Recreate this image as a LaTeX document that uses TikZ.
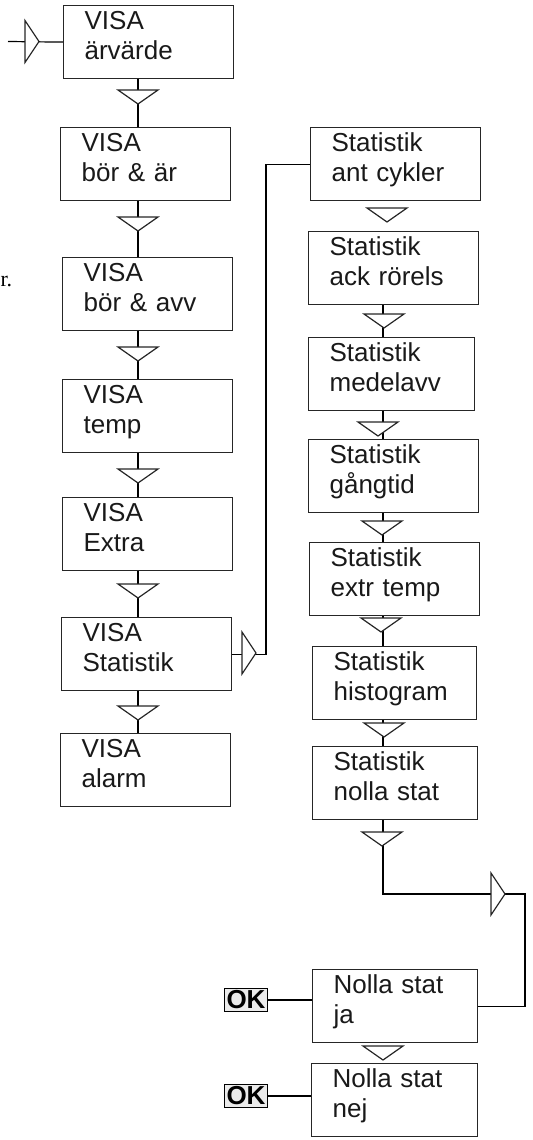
\documentclass[tikz,border=0pt]{standalone}
\usepackage{fontspec}
\setmainfont{Liberation Sans}
\newfontfamily\fragfont{Liberation Serif}
\begin{document}
\begin{tikzpicture}[
    x=0.5pt, y=-0.5pt,
    line width=0.6pt,
    menu/.style={rectangle,draw=black!85,anchor=north west,align=left,
        text width=64pt,inner xsep=10.5pt,inner ysep=0pt,minimum height=36.5pt,
        text height=10pt,text depth=22.5pt,text=black!90,
        font=\fontsize{13pt}{14.8pt}\selectfont},
    okkey/.style={rectangle,draw=black,fill=black!8,inner sep=1pt,
        font=\fontsize{13pt}{14pt}\selectfont\bfseries},
    tridown/.pic={\draw[draw=black!85,fill=white] (-20,0) -- (20,0) -- (0,14) -- cycle;},
    triright/.pic={\draw[draw=black!85,fill=white] (0,-21) -- (0,21) -- (14,0) -- cycle;},
]
\useasboundingbox (0,0) rectangle (533,1140);

% VISA menu
\node[menu] (arvarde) at (63,5) {VISA\\ärvärde};
\node[menu] (borar) at (60,127) {VISA\\bör \& är};
\node[menu] (boravv) at (62,257) {VISA\\bör \& avv};
\node[menu] (temp) at (62,379) {VISA\\temp};
\node[menu] (extra) at (62,497) {VISA\\Extra};
\node[menu] (visastat) at (61,617) {VISA\\Statistik};
\node[menu] (alarm) at (60,733) {VISA\\alarm};

% Statistik menu
\node[menu] (cykler) at (310,127) {Statistik\\ant cykler};
\node[menu] (rorels) at (308,231) {Statistik\\ack rörels};
\node[menu,text width=62pt] (medelavv) at (308,337) {Statistik\\medelavv};
\node[menu] (gangtid) at (308,439) {Statistik\\gångtid};
\node[menu] (extrtemp) at (309,542) {Statistik\\extr temp};
\node[menu,text width=61pt] (histogram) at (312,646) {Statistik\\histogram};
\node[menu,text width=61.5pt] (nollastat) at (312,746) {Statistik\\nolla stat};
\node[menu,text width=61.5pt] (ja) at (312,969) {Nolla stat\\ja};
\node[menu,text width=62pt] (nej) at (311,1063) {Nolla stat\\nej};

% OK keys
\node[okkey] (ok1) at (246,1000) {OK};
\node[okkey] (ok2) at (246,1096) {OK};

\node[anchor=base west,inner sep=0pt,font=\fragfont\fontsize{11pt}{13pt}\selectfont] (frag) at (0,286) {r.};

% helper coordinates
\coordinate (lx) at (138,0);
\coordinate (rx) at (383,0);
\coordinate (entry) at (8,41.5);
\coordinate (sidebend) at (266,0);
\coordinate (loopend) at (525,894);

% Draw connections
\draw (entry) -- (arvarde.west);
\draw (arvarde.south -| lx) -- (borar.north -| lx);
\draw (borar.south -| lx) -- (boravv.north -| lx);
\draw (boravv.south -| lx) -- (temp.north -| lx);
\draw (temp.south -| lx) -- (extra.north -| lx);
\draw (extra.south -| lx) -- (visastat.north -| lx);
\draw (visastat.south -| lx) -- (alarm.north -| lx);
\draw (visastat.east) -| (sidebend |- cykler.west) -- (cykler.west);
\draw (rorels.south -| rx) -- (medelavv.north -| rx);
\draw (medelavv.south -| rx) -- (gangtid.north -| rx);
\draw (gangtid.south -| rx) -- (extrtemp.north -| rx);
\draw (extrtemp.south -| rx) -- (histogram.north -| rx);
\draw (histogram.south -| rx) -- (nollastat.north -| rx);
\draw (nollastat.south -| rx) |- (loopend) |- (ja.east);
\draw (ok1.east) -- (ok1.east -| ja.west);
\draw (ok2.east) -- (ok2.east -| nej.west);

% Draw triangles
\pic at (25,41.5) {triright};
\pic at (138,90) {tridown};
\pic at (138,217) {tridown};
\pic at (138,347) {tridown};
\pic at (138,469) {tridown};
\pic at (138,584) {tridown};
\pic at (138,706) {tridown};
\pic at (242,653) {triright};
\pic at (387,208) {tridown};
\pic at (384,314) {tridown};
\pic at (378,422) {tridown};
\pic at (382,521) {tridown};
\pic at (381,618) {tridown};
\pic at (384,723) {tridown};
\pic at (382,832) {tridown};
\pic at (491,894) {triright};
\pic at (383,1046) {tridown};

\end{tikzpicture}
\end{document}
